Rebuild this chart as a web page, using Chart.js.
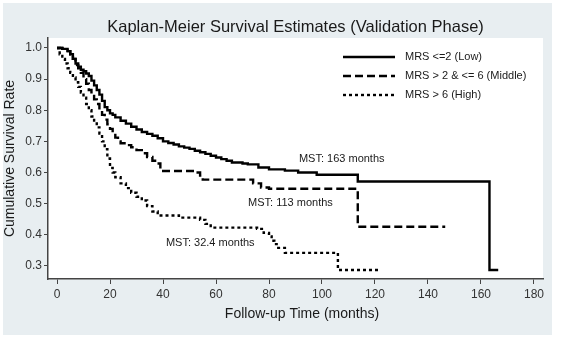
<!DOCTYPE html>
<html lang="en">
<head>
  <meta charset="UTF-8" />
  <title>Kaplan-Meier Survival Estimates</title>
  <script src="https://cdn.jsdelivr.net/npm/chart.js"></script>
  <style>
    body {
      margin: 0;
      background: #ffffff;
    }
    #kmChart {
      display: block;
    }
  </style>
</head>
<body>
  <canvas id="kmChart" width="561" height="339"></canvas>

  <script>
    // follow-up time (months) and survival for each MRS group
    const lowTime = [0, 2, 4, 5, 6, 7, 8, 9, 10, 11, 12, 13, 14, 15, 16, 17, 18, 19, 20, 21, 22, 24, 26, 28, 30, 32, 34, 36, 38, 40, 42, 44, 46, 48, 50, 52, 54, 56, 58, 60, 62, 64, 66, 70, 72, 76, 80, 86, 91, 98, 113.5, 163.2, 166.5];
    const lowSurv = [1.0, 0.997, 0.99, 0.98, 0.965, 0.95, 0.94, 0.93, 0.925, 0.918, 0.91, 0.895, 0.88, 0.865, 0.85, 0.83, 0.81, 0.8, 0.79, 0.785, 0.777, 0.766, 0.757, 0.747, 0.738, 0.73, 0.724, 0.718, 0.71, 0.7, 0.695, 0.69, 0.684, 0.68, 0.676, 0.67, 0.665, 0.66, 0.654, 0.648, 0.643, 0.638, 0.632, 0.629, 0.626, 0.616, 0.61, 0.606, 0.6, 0.593, 0.571, 0.287, 0.287];

    const midTime = [0, 2, 4, 5, 6, 7, 8, 9, 10, 11, 12, 13, 14, 15, 16, 17, 18, 19, 20, 21, 22, 23, 24, 26, 28, 30, 32, 34, 36, 37.7, 39, 52, 54, 55, 74, 77, 80, 113.5, 146.5];
    const midSurv = [1.0, 0.997, 0.99, 0.98, 0.965, 0.945, 0.935, 0.92, 0.9, 0.885, 0.865, 0.85, 0.835, 0.82, 0.8, 0.785, 0.77, 0.755, 0.74, 0.725, 0.712, 0.7, 0.694, 0.688, 0.681, 0.672, 0.662, 0.65, 0.638, 0.629, 0.605, 0.6, 0.59, 0.577, 0.565, 0.552, 0.548, 0.426, 0.426];

    const highTime = [0, 1, 2, 3, 4, 5, 6, 7, 8, 9, 10, 11, 12, 13, 14, 15, 16, 17, 18, 19, 20, 21, 22, 24, 26, 28, 30, 32, 34, 36, 38, 46, 54, 56, 58, 75.5, 78, 80, 81, 82, 83.5, 86, 106, 122];
    const highSurv = [1.0, 0.98, 0.965, 0.95, 0.935, 0.92, 0.905, 0.89, 0.875, 0.857, 0.84, 0.82, 0.8, 0.78, 0.762, 0.745, 0.725, 0.7, 0.675, 0.645, 0.615, 0.6, 0.585, 0.565, 0.55, 0.535, 0.522, 0.51, 0.492, 0.475, 0.462, 0.455, 0.448, 0.435, 0.423, 0.419, 0.406, 0.395, 0.381, 0.37, 0.358, 0.342, 0.287, 0.287];

    const groupLabels = ['MRS <=2 (Low)', 'MRS > 2 & <= 6 (Middle)', 'MRS > 6 (High)'];

    const xTicks = [0, 20, 40, 60, 80, 100, 120, 140, 160, 180];
    const yTicks = [0.3, 0.4, 0.5, 0.6, 0.7, 0.8, 0.9, 1.0];

    // median survival time notes, placed in data units
    const mstText = ['MST: 163 months', 'MST: 113 months', 'MST: 32.4 months'];
    const mstX = [91.3, 72.1, 41.1];
    const mstY = [0.645, 0.503, 0.374];

    const FONT = "'Liberation Sans', Arial, Helvetica, sans-serif";

    function toPoints(xs, ys) {
      return xs.map((x, i) => ({ x: x, y: ys[i] }));
    }

    // backdrop + white plot area
    const backdrop = {
      id: 'backdrop',
      beforeDraw(chart) {
        const ctx = chart.ctx;
        const a = chart.chartArea;
        ctx.save();
        ctx.fillStyle = '#ffffff';
        ctx.fillRect(0, 0, chart.width, chart.height);
        ctx.fillStyle = '#e8eef1';
        ctx.fillRect(3, 3, 549, 332);
        ctx.fillStyle = '#ffffff';
        ctx.fillRect(a.left, a.top, a.right - a.left, a.bottom - a.top);
        ctx.restore();
      }
    };

    // titles, legend and MST notes
    const decorations = {
      id: 'decorations',
      afterDraw(chart) {
        const ctx = chart.ctx;
        const a = chart.chartArea;
        const xs = chart.scales.x;
        const ys = chart.scales.y;
        ctx.save();

        ctx.fillStyle = '#1a1a1a';
        ctx.textAlign = 'center';
        ctx.textBaseline = 'middle';
        ctx.font = '16.5px ' + FONT;
        ctx.fillText('Kaplan-Meier Survival Estimates (Validation Phase)', (a.left + a.right) / 2, 27);

        ctx.font = '14px ' + FONT;
        ctx.fillText('Follow-up Time (months)', 302, 314);

        ctx.save();
        ctx.translate(10, (a.top + a.bottom) / 2);
        ctx.rotate(-Math.PI / 2);
        ctx.fillText('Cumulative Survival Rate', 0, 0);
        ctx.restore();

        // legend
        ctx.font = '11px ' + FONT;
        ctx.textAlign = 'left';
        chart.data.datasets.forEach((ds, i) => {
          const y = 57 + i * 19;
          ctx.save();
          ctx.strokeStyle = ds.borderColor;
          ctx.lineWidth = ds.borderWidth;
          ctx.setLineDash(ds.borderDash || []);
          ctx.beginPath();
          ctx.moveTo(343, y);
          ctx.lineTo(395, y);
          ctx.stroke();
          ctx.restore();
          ctx.fillText(ds.label, 405, y);
        });

        // MST notes
        mstText.forEach((t, i) => {
          ctx.fillText(t, xs.getPixelForValue(mstX[i]), ys.getPixelForValue(mstY[i]));
        });

        ctx.restore();
      }
    };

    const lineStyle = {
      borderColor: '#000000',
      borderWidth: 2.4,
      pointRadius: 0,
      fill: false,
      stepped: 'before',
      tension: 0
    };

    new Chart(document.getElementById('kmChart'), {
      type: 'line',
      data: {
        datasets: [
          Object.assign({ label: groupLabels[0], data: toPoints(lowTime, lowSurv), borderDash: [] }, lineStyle),
          Object.assign({ label: groupLabels[1], data: toPoints(midTime, midSurv), borderDash: [8, 4] }, lineStyle),
          Object.assign({ label: groupLabels[2], data: toPoints(highTime, highSurv), borderDash: [3, 3] }, lineStyle)
        ]
      },
      options: {
        responsive: false,
        animation: false,
        events: [],
        layout: {
          padding: { left: 3, right: 18, top: 38, bottom: 0 }
        },
        plugins: {
          legend: { display: false },
          tooltip: { enabled: false },
          title: { display: false }
        },
        scales: {
          x: {
            type: 'linear',
            min: -3.4,
            max: 183.4,
            afterBuildTicks(scale) {
              scale.ticks = xTicks.map(v => ({ value: v }));
            },
            afterFit(scale) {
              scale.height = 60;
            },
            ticks: {
              color: '#333333',
              font: { family: FONT, size: 12 },
              padding: 3,
              maxRotation: 0,
              autoSkip: false
            },
            grid: {
              drawOnChartArea: false,
              drawTicks: true,
              tickLength: 5,
              color: '#444444'
            },
            border: { display: true, color: '#444444', width: 1.5 }
          },
          y: {
            type: 'linear',
            min: 0.258,
            max: 1.032,
            afterBuildTicks(scale) {
              scale.ticks = yTicks.map(v => ({ value: v }));
            },
            afterFit(scale) {
              scale.width = 45;
            },
            ticks: {
              color: '#333333',
              font: { family: FONT, size: 12 },
              padding: 2,
              autoSkip: false,
              callback: v => v.toFixed(1)
            },
            grid: {
              drawOnChartArea: false,
              drawTicks: true,
              tickLength: 4,
              color: '#444444'
            },
            border: { display: true, color: '#444444', width: 1.5 }
          }
        }
      },
      plugins: [backdrop, decorations]
    });
  </script>
</body>
</html>
